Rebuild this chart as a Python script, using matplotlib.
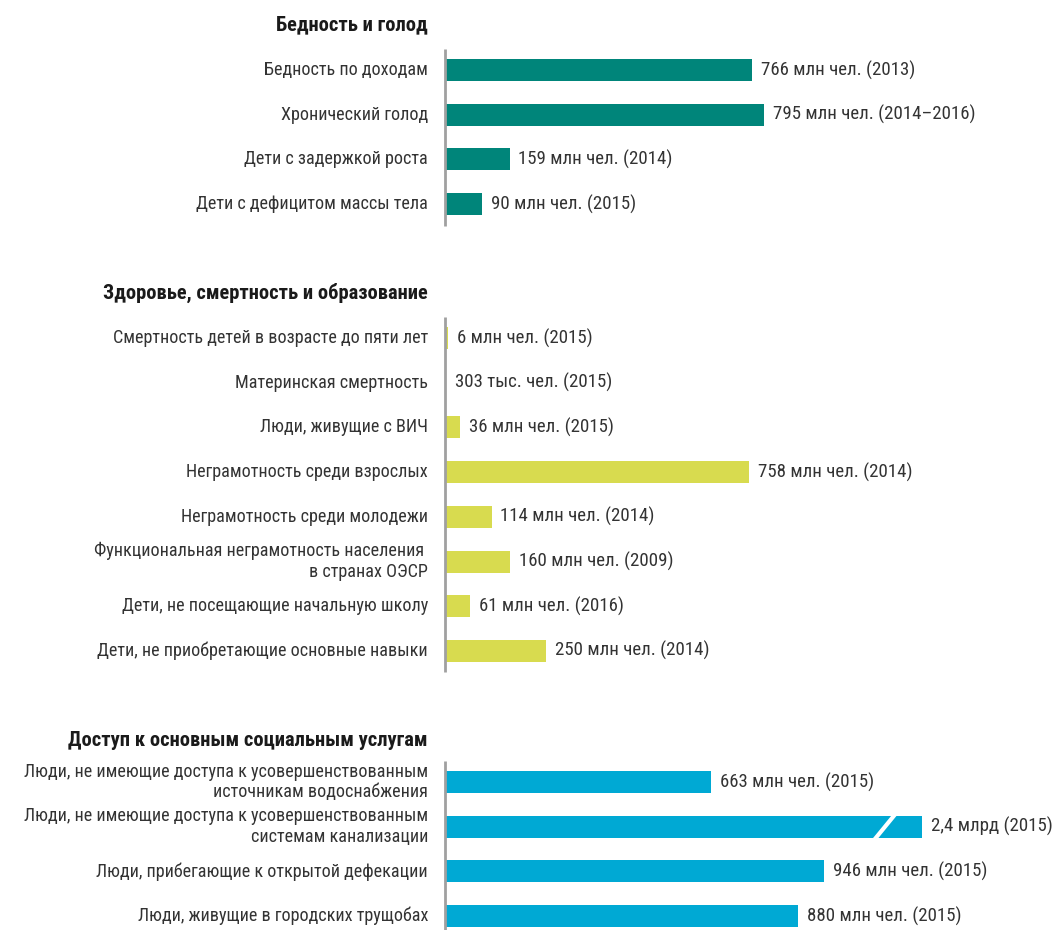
import matplotlib
matplotlib.use("Agg")
import matplotlib.pyplot as plt

plt.rcParams['font.family'] = ['Roboto Condensed', 'Fira Sans Extra Condensed', 'DejaVu Sans']

# ============================================================
# data
# ============================================================
group_titles = ["Бедность и голод",
                "Здоровье, смертность и образование",
                "Доступ к основным социальным услугам"]

poverty_labels = ["Бедность по доходам", "Хронический голод",
                  "Дети с задержкой роста", "Дети с дефицитом массы тела"]
poverty_values = [766, 795, 159, 90]          # млн чел.
poverty_text = ["766 млн чел. (2013)", "795 млн чел. (2014–2016)",
                "159 млн чел. (2014)", "90 млн чел. (2015)"]

health_labels = ["Смертность детей в возрасте до пяти лет",
                 "Материнская смертность",
                 "Люди, живущие с ВИЧ",
                 "Неграмотность среди взрослых",
                 "Неграмотность среди молодежи",
                 "Функциональная неграмотность населения \nв странах ОЭСР",
                 "Дети, не посещающие начальную школу",
                 "Дети, не приобретающие основные навыки"]
health_values = [6, 0.303, 36, 758, 114, 160, 61, 250]
health_text = ["6 млн чел. (2015)", "303 тыс. чел. (2015)", "36 млн чел. (2015)",
               "758 млн чел. (2014)", "114 млн чел. (2014)", "160 млн чел. (2009)",
               "61 млн чел. (2016)", "250 млн чел. (2014)"]

services_labels = ["Люди, не имеющие доступа к усовершенствованным\nисточникам водоснабжения",
                   "Люди, не имеющие доступа к усовершенствованным\nсистемам канализации",
                   "Люди, прибегающие к открытой дефекации",
                   "Люди, живущие в городских трущобах"]
services_values = [663, 2400, 946, 880]
services_text = ["663 млн чел. (2015)", "2,4 млрд (2015)",
                 "946 млн чел. (2015)", "880 млн чел. (2015)"]

colors = ["#00857A", "#D8DB4F", "#00A9D4"]
cap = 1190   # длинные столбцы обрезаются с разрывом

groups = [(poverty_labels, poverty_values, poverty_text),
          (health_labels, health_values, health_text),
          (services_labels, services_values, services_text)]

# ============================================================
# layout (pixel rows)
# ============================================================
W, H = 1055, 930
px = 0.4          # пикселей на 1 млн
x0 = 446          # начало столбцов
first_row = [70, 338, 782]
header_y = [25, 293, 740]
step = 44.7
line_end = [226, 672, 930]

fig = plt.figure(figsize=(W / 100, H / 100), dpi=100)
ax = fig.add_axes([0, 0, 1, 1])
ax.set_xlim(-x0 / px, (W - x0) / px)
ax.set_ylim(H, 0)
ax.axis("off")

lab_x = (428 - x0) / px
axis_x = (444.5 - x0) / px
txt_color = "#333333"

for g, (labels, values, texts) in enumerate(groups):
    ys = [first_row[g] + i * step for i in range(len(values))]
    lengths = [min(v, cap) for v in values]
    ax.barh(ys, lengths, height=22, left=0, color=colors[g], zorder=2)
    ax.plot([axis_x, axis_x], [first_row[g] - 21, line_end[g]],
            color="#A0A0A0", lw=2, zorder=3, solid_capstyle="butt")
    ax.text(lab_x, header_y[g], group_titles[g], ha="right", va="center",
            fontsize=14.8, fontweight="bold", color="#1a1a1a")
    for y, lab, v, ln, t in zip(ys, labels, values, lengths, texts):
        ax.text(lab_x, y, lab, ha="right", va="center", fontsize=13.1,
                color=txt_color, linespacing=1.2)
        ax.text(ln + 22, y, t, ha="left", va="center", fontsize=13.6, color=txt_color)
        if v > cap:
            ax.plot([ln - 115, ln - 70], [y + 11, y - 11], color="white",
                    lw=3, zorder=4)

fig.savefig("out.png", dpi=100)
